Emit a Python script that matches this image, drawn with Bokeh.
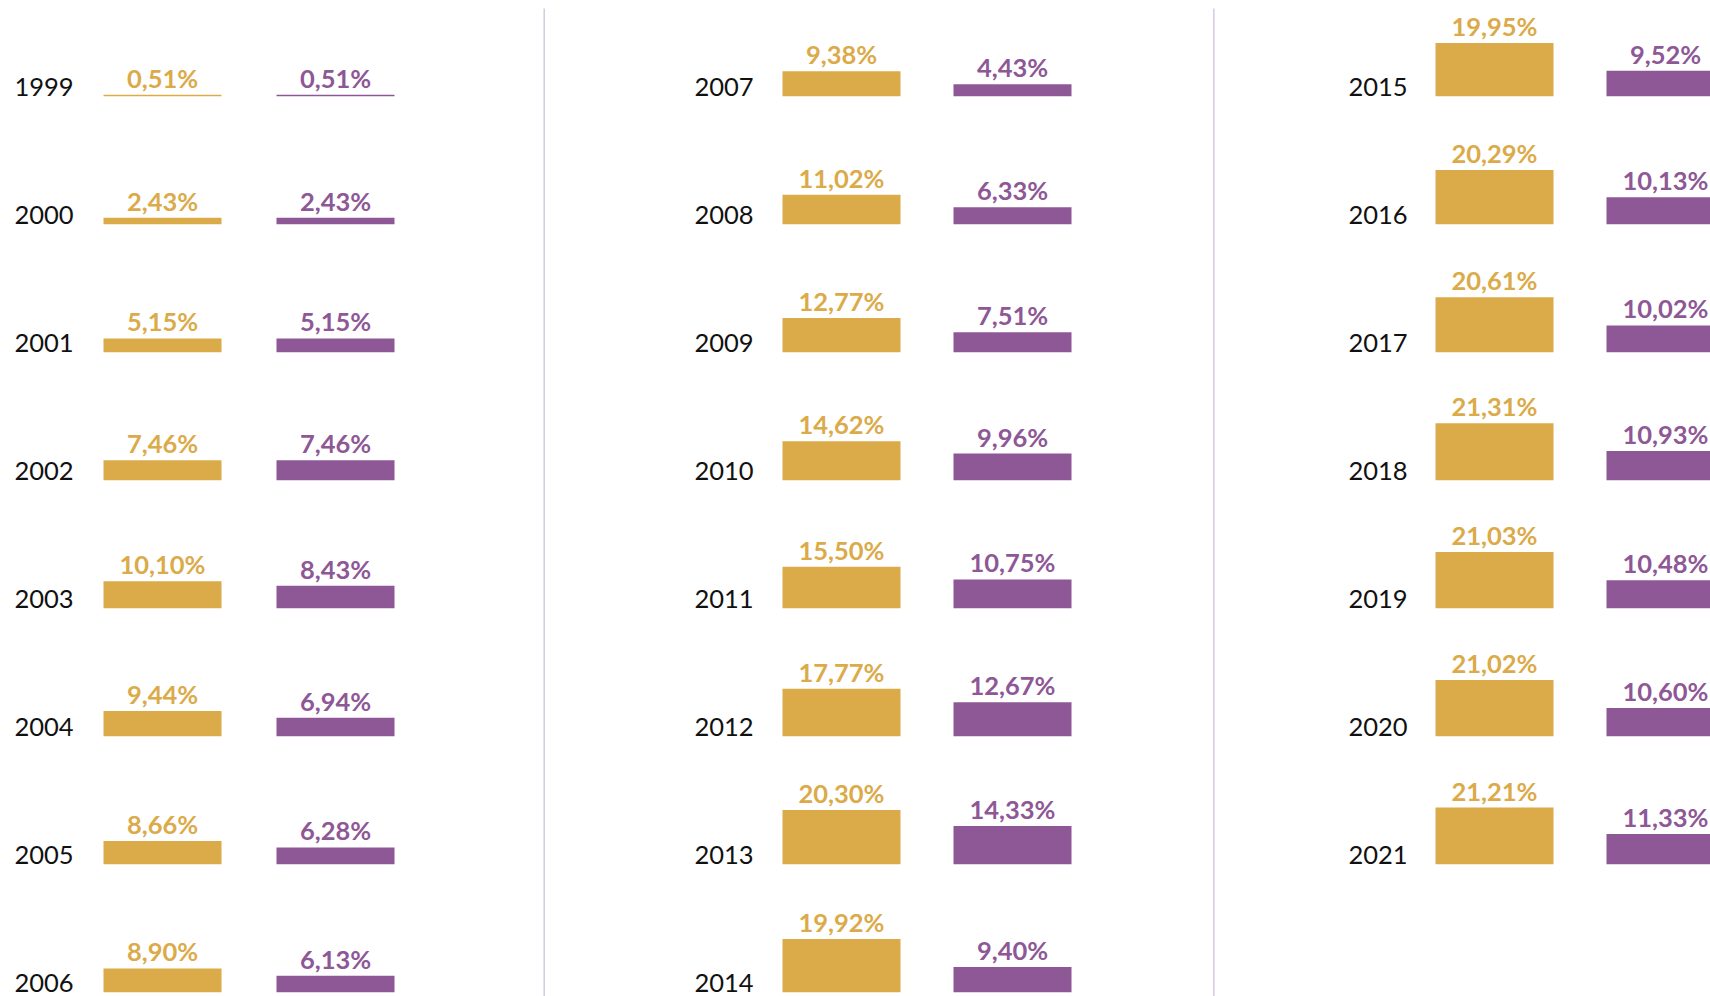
from bokeh.plotting import figure
from bokeh.models import ColumnDataSource, Range1d
from bokeh.core.properties import value
from bokeh.embed import file_html
from bokeh.resources import INLINE

# ---------------- data ----------------
years = [1999, 2000, 2001, 2002, 2003, 2004, 2005, 2006,
         2007, 2008, 2009, 2010, 2011, 2012, 2013, 2014,
         2015, 2016, 2017, 2018, 2019, 2020, 2021]
gold_values = [0.51, 2.43, 5.15, 7.46, 10.10, 9.44, 8.66, 8.90,
               9.38, 11.02, 12.77, 14.62, 15.50, 17.77, 20.30, 19.92,
               19.95, 20.29, 20.61, 21.31, 21.03, 21.02, 21.21]
purple_values = [0.51, 2.43, 5.15, 7.46, 8.43, 6.94, 6.28, 6.13,
                 4.43, 6.33, 7.51, 9.96, 10.75, 12.67, 14.33, 9.40,
                 9.52, 10.13, 10.02, 10.93, 10.48, 10.60, 11.33]

# ---------------- layout / style ----------------
W, H = 1710, 996
PAGE_LEFT, PAGE_TOP = 0, 0
PX_PER_PCT = 2.67
ROW_PITCH_PX = 128.0
FIRST_BASELINE_PX = 95.7
ROWS_PER_COL = 8
LABEL_GAP_PX = 8
TEXT_SHIFT_PX = -9   # baseline correction for the renderer

COL_YEAR_X = [14, 694, 1348]
COL_GOLD_X = [103, 782, 1435]
COL_PURPLE_X = [276, 953, 1606]
BAR_W = 118
DIVIDER_X = [543.7, 1213.3]
DIVIDER_TOP_PX = 8

GOLD = "#DBAA49"
PURPLE = "#8E5796"
DIVIDER = "#D9C9E3"
FONT = "Lato"

ROW_UNITS = ROW_PITCH_PX / PX_PER_PCT
Y_TOP = (FIRST_BASELINE_PX - PAGE_TOP) / PX_PER_PCT
Y_BOTTOM = Y_TOP - H / PX_PER_PCT
GAP = LABEL_GAP_PX / PX_PER_PCT
DIV_Y0 = Y_TOP - (DIVIDER_TOP_PX - PAGE_TOP) / PX_PER_PCT


def fmt(v):
    return f"{v:.2f}".replace(".", ",") + "%"


year_x, gold_x, purple_x, base = [], [], [], []
for i, yr in enumerate(years):
    c, r = divmod(i, ROWS_PER_COL)
    year_x.append(COL_YEAR_X[c])
    gold_x.append(COL_GOLD_X[c] + BAR_W / 2)
    purple_x.append(COL_PURPLE_X[c] + BAR_W / 2)
    base.append(-r * ROW_UNITS)

src = ColumnDataSource(dict(
    year=[str(y) for y in years],
    year_x=year_x,
    gold_x=gold_x,
    purple_x=purple_x,
    base=base,
    gold_top=[b + v for b, v in zip(base, gold_values)],
    purple_top=[b + v for b, v in zip(base, purple_values)],
    gold_lbl_y=[b + v + GAP for b, v in zip(base, gold_values)],
    purple_lbl_y=[b + v + GAP for b, v in zip(base, purple_values)],
    gold_lbl=[fmt(v) for v in gold_values],
    purple_lbl=[fmt(v) for v in purple_values],
))

p = figure(width=W, height=H, output_backend="svg", toolbar_location=None,
           x_range=Range1d(PAGE_LEFT, PAGE_LEFT + W),
           y_range=Range1d(Y_BOTTOM, Y_TOP),
           x_axis_type=None, y_axis_type=None, min_border=0)
p.grid.visible = False
p.outline_line_color = None
p.background_fill_color = "white"
p.border_fill_color = "white"

# dividers
p.segment(x0=DIVIDER_X, x1=DIVIDER_X, y0=[DIV_Y0] * 2, y1=[Y_BOTTOM] * 2,
          line_color=DIVIDER, line_width=1.5)

# bars
p.vbar(x="gold_x", width=BAR_W, bottom="base", top="gold_top", source=src,
       fill_color=GOLD, line_color=None)
p.vbar(x="purple_x", width=BAR_W, bottom="base", top="purple_top", source=src,
       fill_color=PURPLE, line_color=None)

# value labels
p.text(x="gold_x", y="gold_lbl_y", text="gold_lbl", source=src,
       y_offset=TEXT_SHIFT_PX,
       text_align="center", text_baseline="alphabetic",
       text_font=value(FONT), text_font_style="bold", text_font_size="25.5px",
       text_color=GOLD)
p.text(x="purple_x", y="purple_lbl_y", text="purple_lbl", source=src,
       y_offset=TEXT_SHIFT_PX,
       text_align="center", text_baseline="alphabetic",
       text_font=value(FONT), text_font_style="bold", text_font_size="25.5px",
       text_color=PURPLE)

# year labels
p.text(x="year_x", y="base", text="year", source=src,
       y_offset=TEXT_SHIFT_PX,
       text_align="left", text_baseline="alphabetic",
       text_font=value(FONT), text_font_size="25.5px", text_color="#111111")

open("out.html", "w").write(file_html(p, INLINE))
